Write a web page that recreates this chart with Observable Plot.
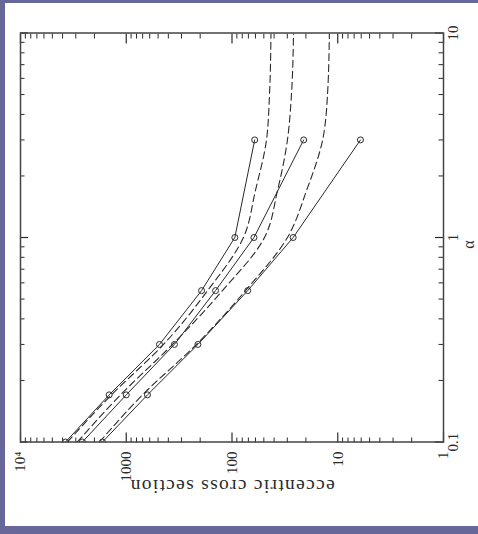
<!DOCTYPE html>
<html><head><meta charset="utf-8">
<script src="https://cdn.jsdelivr.net/npm/d3@7"></script>
<script src="https://cdn.jsdelivr.net/npm/@observablehq/plot@0.6"></script>
<style>
html,body{margin:0;padding:0;}
body{width:478px;height:534px;background:#67679a;position:relative;overflow:hidden;}
#panel{position:absolute;left:5px;top:3px;width:473px;height:523px;background:#fff;overflow:hidden;}
#panel svg{position:absolute;left:0;top:0;width:523px;height:473px;max-width:none;transform-origin:0 0;transform:translate(0,523px) rotate(-90deg);}
</style></head><body><div id="panel"></div>
<script>
// simulated points (solid lines with circles)
const alphaPts = [0.1, 0.17, 0.3, 0.55, 1, 3];
const sigmaA = [3750, 1450, 485, 194, 94, 61];
const sigmaB = [2600, 1000, 350, 143, 62, 21];
const sigmaC = [1680, 630, 210, 71, 26.4, 6.1];
// analytic curves (dashed)
const alphaFit = [0.1, 0.17, 0.3, 0.55, 1, 1.7, 3, 5, 10];
const fitA = [3600, 1380, 444, 170, 78, 60, 47.2, 44.2, 42.8];
const fitB = [2900, 1133, 365, 123, 49.3, 37.1, 29.9, 27.4, 26.2];
const fitC = [1790, 702, 217, 74.5, 29.9, 19.7, 13.9, 12.5, 12.0];
// ticks
const alphaMajor = [0.1, 1, 10];
const alphaLabels = ["0.1", "1", "10"];
const alphaMinor = [0.2,0.3,0.4,0.5,0.6,0.7,0.8,0.9,2,3,4,5,6,7,8,9];
const sigmaMajor = [1, 10, 100, 1000, 10000];
const sigmaLabels = ["1", "10", "100", "1000", "10\u2074"];
const sigmaMinor = [2,3,4,5,6,7,8,9,20,30,40,50,60,70,80,90,200,300,400,500,600,700,800,900,2000,3000,4000,5000,6000,7000,8000,9000];
const xLabel = "\u03b1";
const yLabel = "eccentric cross section";

const W = 523, H = 473, mL = 83.5, mR = 30.5, mT = 15, mB = 35;
const iW = W - mL - mR, iH = H - mT - mB;
const ink = "#2a2a2a";
const font = "Liberation Serif";

const toRows = (xs, ys, name) => xs.map((x, i) => ({alpha: x, sigma: ys[i], name}));
const pts = [...toRows(alphaPts, sigmaA, "A"), ...toRows(alphaPts, sigmaB, "B"), ...toRows(alphaPts, sigmaC, "C")];
const fits = [...toRows(alphaFit, fitA, "A"), ...toRows(alphaFit, fitB, "B"), ...toRows(alphaFit, fitC, "C")];

const chart = Plot.plot({
  width: W, height: H,
  marginLeft: mL, marginRight: mR, marginTop: mT, marginBottom: mB,
  style: {background: "white", fontFamily: font, color: ink, overflow: "visible"},
  x: {type: "log", domain: [0.1, 10], axis: null},
  y: {type: "log", domain: [1, 1e4], axis: null},
  marks: [
    Plot.line(fits, {x: "alpha", y: "sigma", z: "name", stroke: ink, strokeWidth: 1.1, strokeDasharray: "7,4", curve: "monotone-x", clip: "frame"}),
    Plot.line(pts, {x: "alpha", y: "sigma", z: "name", stroke: ink, strokeWidth: 1, clip: "frame"}),
    Plot.dot(pts, {x: "alpha", y: "sigma", r: 3, stroke: ink, strokeWidth: 1, fill: "none", clip: "frame"}),
    Plot.tickX(alphaMajor, {x: d => d, stroke: ink, strokeWidth: 1.2, insetTop: iH - 8}),
    Plot.tickX(alphaMajor, {x: d => d, stroke: ink, strokeWidth: 1.2, insetBottom: iH - 8}),
    Plot.tickX(alphaMinor, {x: d => d, stroke: ink, strokeWidth: 1, insetTop: iH - 4.5}),
    Plot.tickX(alphaMinor, {x: d => d, stroke: ink, strokeWidth: 1, insetBottom: iH - 4.5}),
    Plot.tickY(sigmaMajor, {y: d => d, stroke: ink, strokeWidth: 1.2, insetRight: iW - 10}),
    Plot.tickY(sigmaMajor, {y: d => d, stroke: ink, strokeWidth: 1.2, insetLeft: iW - 10}),
    Plot.tickY(sigmaMinor, {y: d => d, stroke: ink, strokeWidth: 1, insetRight: iW - 5}),
    Plot.tickY(sigmaMinor, {y: d => d, stroke: ink, strokeWidth: 1, insetLeft: iW - 5}),
    Plot.frame({stroke: "#444", strokeWidth: 1.5}),
    Plot.text(alphaMajor, {x: d => d, text: (d, i) => alphaLabels[i], frameAnchor: "bottom", dy: 10, textAnchor: "middle", lineAnchor: "middle", fontSize: 15, fill: ink}),
    Plot.text(sigmaMajor, {y: d => d, text: (d, i) => sigmaLabels[i], frameAnchor: "left", dx: -9.5, textAnchor: "end", lineAnchor: "middle", fontSize: 15, fill: ink}),
    Plot.text([yLabel], {text: d => d, frameAnchor: "left", dx: -44.5, rotate: -90, textAnchor: "middle", lineAnchor: "middle", fontSize: 19.5, fill: ink}),
    Plot.text([1], {x: d => d, text: () => xLabel, frameAnchor: "bottom", dy: 25.5, dx: -7, textAnchor: "middle", lineAnchor: "middle", fontSize: 16, fill: ink})
  ]
});
d3.select(chart).selectAll("text").filter(function() { return this.textContent === yLabel; }).style("letter-spacing", "1.3px");
document.getElementById("panel").appendChild(chart);
</script>
</body></html>
